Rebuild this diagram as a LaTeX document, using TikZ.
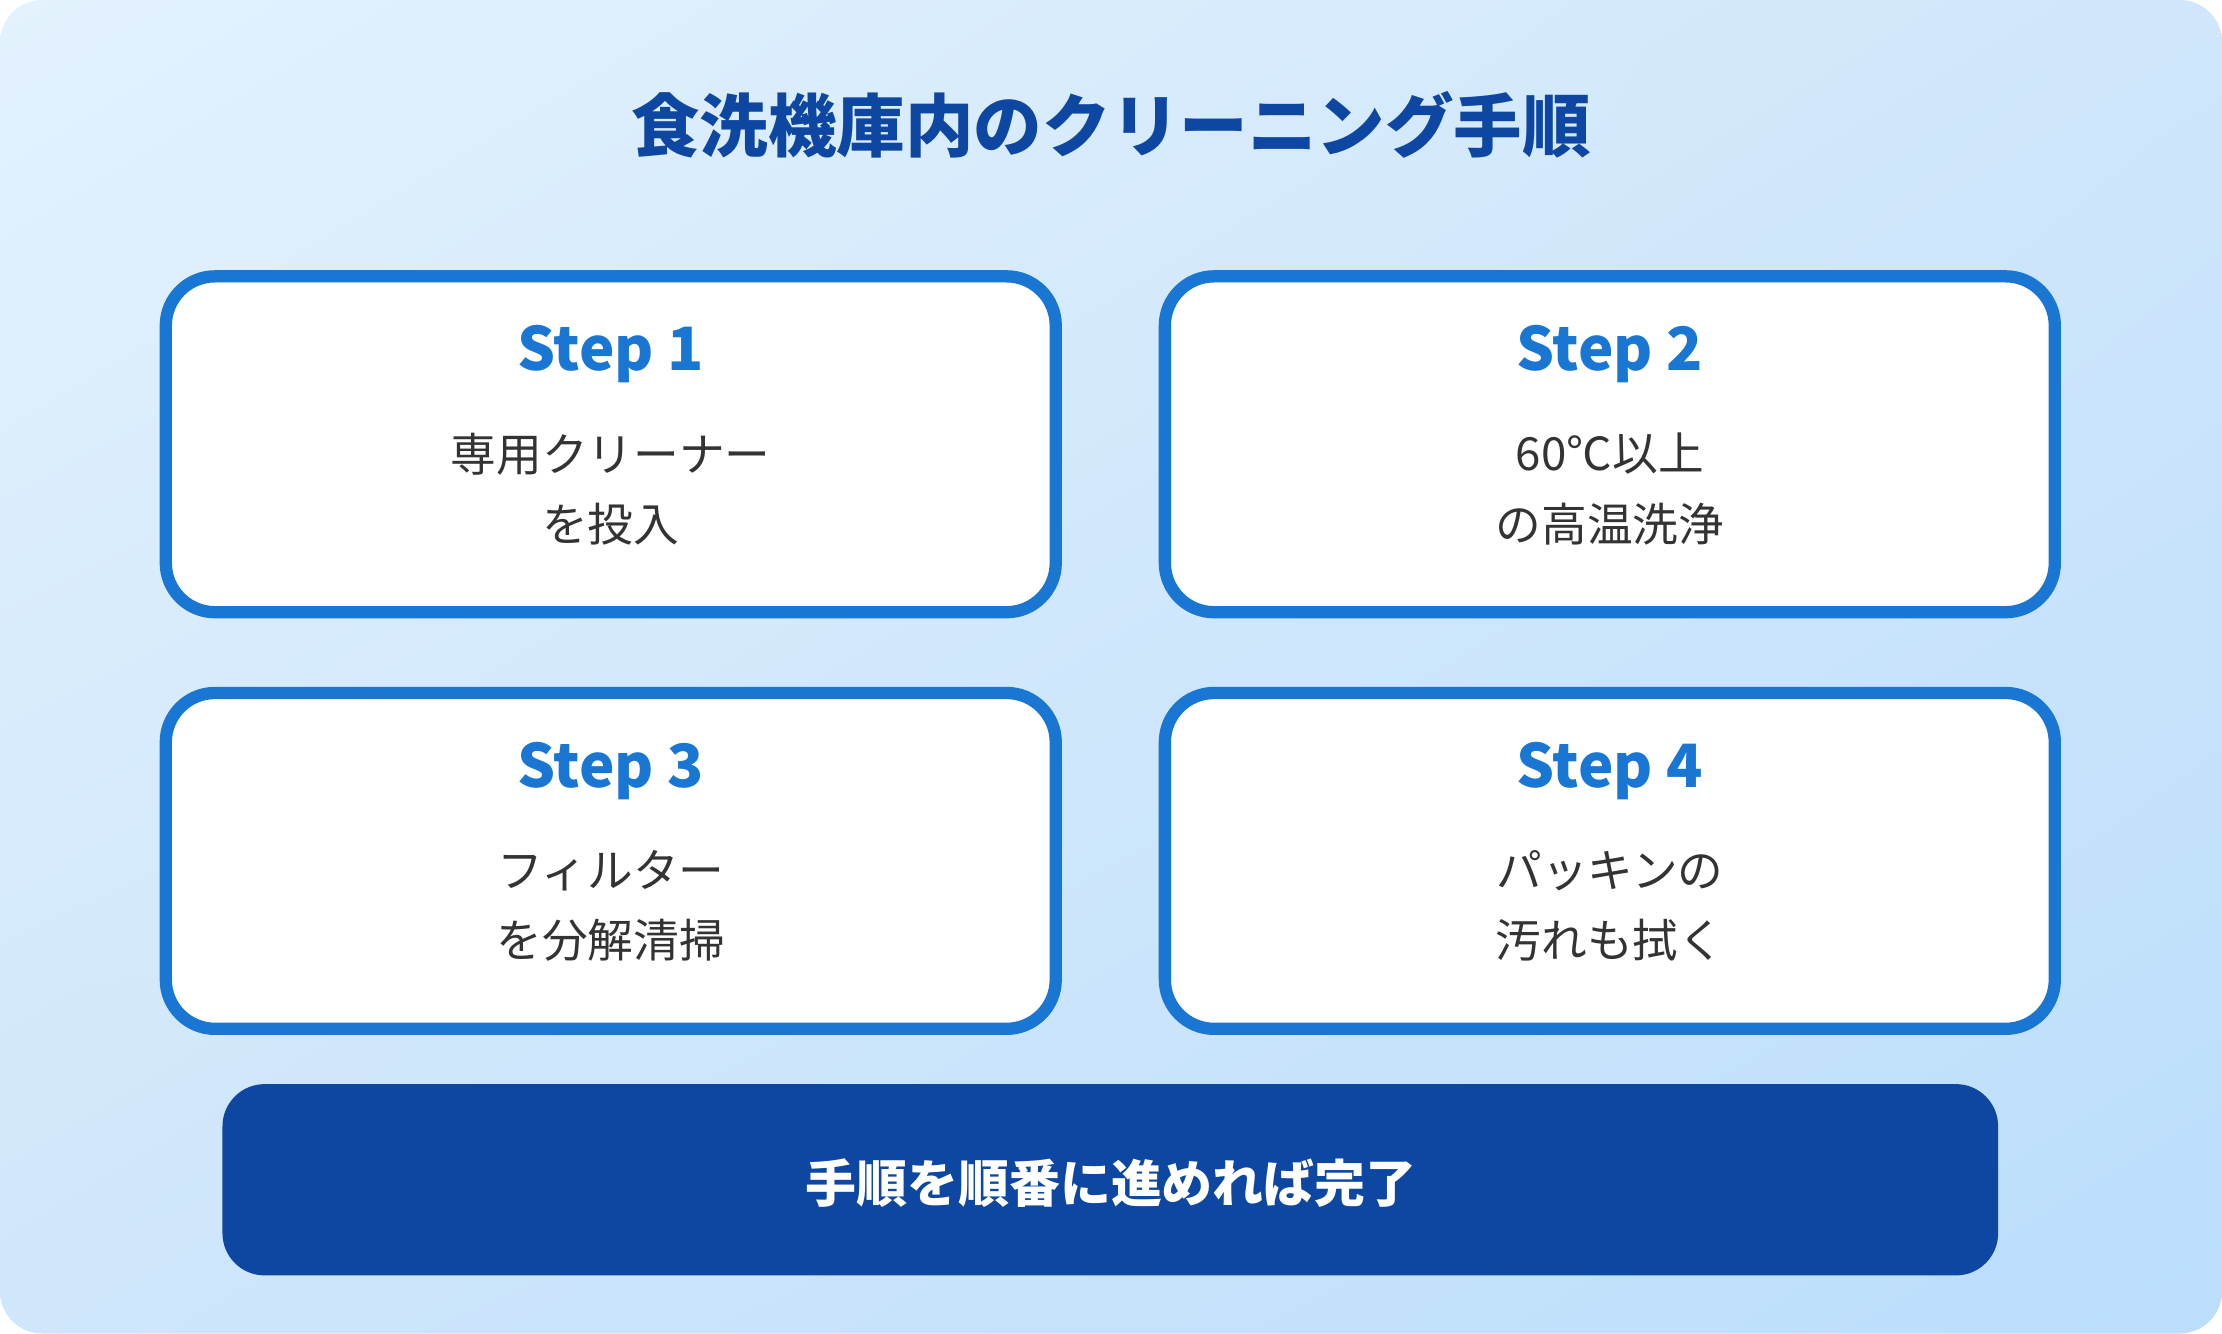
\documentclass[tikz,border=0pt]{standalone}
\usepackage{fontspec}
\usetikzlibrary{shadings}
\setmainfont{Noto Sans CJK JP}
\definecolor{bgA}{HTML}{E3F2FD}
\definecolor{bgB}{HTML}{BBDEFB}
\definecolor{bgM}{HTML}{CFE6FB}
\definecolor{stepblue}{HTML}{1976D2}
\definecolor{navy}{HTML}{0D47A1}
\definecolor{bodytext}{HTML}{333333}
\begin{document}
\begin{tikzpicture}[x=0.01417cm,y=-0.01417cm,
  card/.style={draw=stepblue,line width=3.5pt,fill=white,rounded corners=14pt},
  steplabel/.style={text=stepblue,font=\fontsize{17}{20}\selectfont\bfseries},
  body/.style={text=bodytext,align=center,font=\fontsize{13}{20}\selectfont},
]
\useasboundingbox (0,0) rectangle (1568,941);
\shade[upper left=bgA,lower right=bgB,upper right=bgM,lower left=bgM,rounded corners=12pt] (0,0) rectangle (1568,941);
\node[text=navy,font=\fontsize{19.5}{24}\selectfont\bfseries] (title) at (784,88) {食洗機庫内のクリーニング手順};
\foreach \n/\xa/\ya/\s/\t in {1/117/195/Step 1/{専用クリーナー\\を投入},2/822/195/Step 2/{60℃以上\\の高温洗浄},3/117/489/Step 3/{フィルター\\を分解清掃},4/822/489/Step 4/{パッキンの\\汚れも拭く}}{
  \draw[card] (\xa,\ya) rectangle ++(628,237);
  \node[steplabel] (s\n) at (\xa+314,\ya+55) {\s};
  \node[body] (b\n) at (\xa+314,\ya+150) {\t};
}
\fill[navy,rounded corners=12pt] (157,765) rectangle (1410,900);
\node[text=white,font=\fontsize{14.5}{18}\selectfont\bfseries] (done) at (784,835) {手順を順番に進めれば完了};
\end{tikzpicture}
\end{document}
